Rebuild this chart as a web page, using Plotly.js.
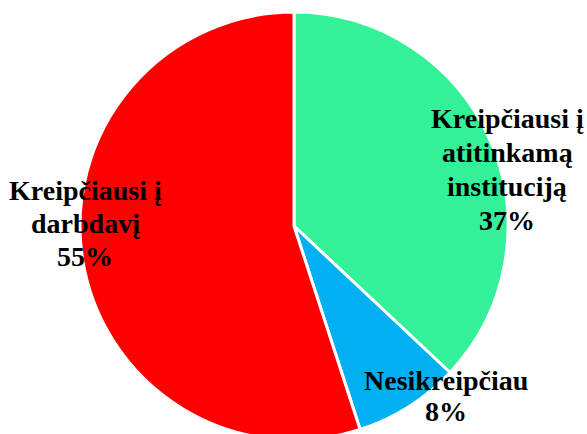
<!DOCTYPE html>
<html>
<head>
<meta charset="utf-8">
<script src="https://cdn.plot.ly/plotly-3.0.1.min.js"></script>
<style>
html, body { margin: 0; padding: 0; overflow: hidden; background: #fff; }
#chart { width: 587px; height: 446px; }
</style>
</head>
<body>
<div id="chart"></div>
<script>
const categories = ["Kreipčiausi į<br>atitinkamą<br>instituciją", "Nesikreipčiau", "Kreipčiausi į<br>darbdavį"];
const values = [37, 8, 55];
const percentLabels = ["37%", "8%", "55%"];
const colors = ["#33F199", "#00B0F0", "#FF0000"];

const W = 587, H = 446;
// label line centers in pixels (layout only)
const labelPos = [
  {x: 507, y: 118, dy: 34},
  {x: 446, y: 380, dy: 31},
  {x: 85, y: 190, dy: 33}
];

const annotations = [];
categories.forEach((c, i) => {
  const lines = c.split("<br>").concat([percentLabels[i]]);
  lines.forEach((ln, j) => {
    annotations.push({
      text: "<b>" + ln + "</b>",
      xref: "paper", yref: "paper",
      x: labelPos[i].x / W,
      y: 1 - (labelPos[i].y + j * labelPos[i].dy) / H,
      xanchor: "center", yanchor: "middle",
      showarrow: false,
      font: {family: "Liberation Serif, Times New Roman, serif", size: 28, color: "#000"}
    });
  });
});

const cx = 294, cy = 226, r = 214;
const data = [{
  type: "pie",
  labels: categories,
  values: values,
  sort: false,
  direction: "clockwise",
  rotation: 0,
  textinfo: "none",
  hoverinfo: "none",
  marker: {colors: colors, line: {color: "#ffffff", width: 3}},
  domain: {x: [(cx - r) / W, (cx + r) / W], y: [1 - (cy + r) / H, 1 - (cy - r) / H]}
}];

const layout = {
  width: W, height: H,
  margin: {l: 0, r: 0, t: 0, b: 0},
  showlegend: false,
  paper_bgcolor: "#fff",
  annotations: annotations
};

Plotly.newPlot("chart", data, layout, {displayModeBar: false, staticPlot: true});
</script>
</body>
</html>
